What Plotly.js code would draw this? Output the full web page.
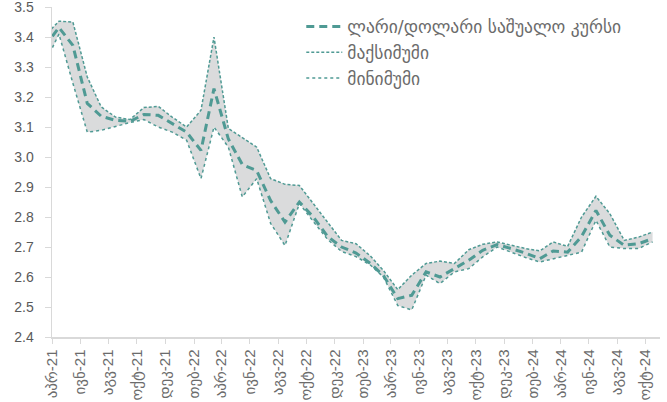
<!DOCTYPE html>
<html>
<head>
<meta charset="utf-8">
<script src="https://cdn.plot.ly/plotly-3.0.1.min.js"></script>
<style>html,body{margin:0;padding:0;background:#fff}#chart{width:667px;height:402px}</style>
</head>
<body>
<div id="chart"></div>
<script>
// Months (first entry, March 2021, lies just left of the visible axis and is clipped)
const months = [
  '2021-03','2021-04','2021-05','2021-06','2021-07','2021-08','2021-09','2021-10','2021-11','2021-12',
  '2022-01','2022-02','2022-03','2022-04','2022-05','2022-06','2022-07','2022-08','2022-09','2022-10','2022-11','2022-12',
  '2023-01','2023-02','2023-03','2023-04','2023-05','2023-06','2023-07','2023-08','2023-09','2023-10','2023-11','2023-12',
  '2024-01','2024-02','2024-03','2024-04','2024-05','2024-06','2024-07','2024-08','2024-09','2024-10'
];
const avgRate = [
  3.368,3.432,3.372,3.179,3.136,3.122,3.119,3.142,3.139,3.111,
  3.083,3.022,3.228,3.060,2.975,2.955,2.855,2.783,2.850,2.800,2.735,2.700,
  2.680,2.645,2.605,2.528,2.539,2.617,2.600,2.628,2.656,2.689,2.708,2.695,
  2.680,2.661,2.687,2.683,2.735,2.822,2.739,2.706,2.711,2.728
];
const maxRate = [
  3.403,3.453,3.450,3.267,3.167,3.133,3.125,3.165,3.169,3.133,
  3.100,3.156,3.400,3.095,3.065,3.033,2.928,2.909,2.905,2.845,2.785,2.722,
  2.711,2.670,2.622,2.558,2.606,2.645,2.653,2.645,2.691,2.709,2.717,2.706,
  2.695,2.687,2.717,2.702,2.800,2.869,2.811,2.722,2.733,2.750
];
const minRate = [
  3.311,3.410,3.246,3.083,3.089,3.102,3.115,3.125,3.100,3.083,
  3.056,2.928,3.100,3.033,2.867,2.928,2.779,2.705,2.845,2.785,2.725,2.685,
  2.668,2.640,2.600,2.505,2.490,2.606,2.578,2.617,2.628,2.667,2.700,2.683,
  2.665,2.650,2.661,2.672,2.683,2.789,2.700,2.695,2.695,2.717
];
const tickMonths = ['2021-04','2021-06','2021-08','2021-10','2021-12','2022-02','2022-04','2022-06','2022-08','2022-10','2022-12',
  '2023-02','2023-04','2023-06','2023-08','2023-10','2023-12','2024-02','2024-04','2024-06','2024-08','2024-10'];
const tickLabels = ['აპრ-21','ივნ-21','აგვ-21','ოქტ-21','დეკ-21','თებ-22','აპრ-22','ივნ-22','აგვ-22','ოქტ-22','დეკ-22',
  'თებ-23','აპრ-23','ივნ-23','აგვ-23','ოქტ-23','დეკ-23','თებ-24','აპრ-24','ივნ-24','აგვ-24','ოქტ-24'];
const yTicks = [2.4, 2.5, 2.6, 2.7, 2.8, 2.9, 3.0, 3.1, 3.2, 3.3, 3.4, 3.5];
const names = ['ლარი/დოლარი საშუალო კურსი','მაქსიმუმი','მინიმუმი'];

const x = months.map(m => m + '-16');
const teal = '#4f9a94';
const font = '"Liberation Sans", "DejaVu Sans", sans-serif';

const traces = [
  {x: x, y: maxRate, mode: 'lines', line: {width: 0}, showlegend: false, hoverinfo: 'skip'},
  {x: x, y: minRate, mode: 'lines', line: {width: 0}, fill: 'tonexty', fillcolor: '#dadbdc', showlegend: false, hoverinfo: 'skip'},
  {x: x, y: avgRate, name: names[0], mode: 'lines', line: {color: teal, width: 3, dash: '8px,5px'}},
  {x: x, y: maxRate, name: names[1], mode: 'lines', line: {color: teal, width: 1.5, dash: '3px,2px'}},
  {x: x, y: minRate, name: names[2], mode: 'lines', line: {color: teal, width: 1.5, dash: 'dot'}}
];

const layout = {
  width: 667, height: 402,
  margin: {l: 52, r: 7, t: 7, b: 65},
  paper_bgcolor: '#fff', plot_bgcolor: '#fff',
  font: {family: font, color: '#595959', size: 14},
  showlegend: true,
  legend: {x: 0.41, y: 0.995, xanchor: 'left', yanchor: 'top', bgcolor: 'rgba(0,0,0,0)', traceorder: 'normal',
    font: {family: '"DejaVu Sans", sans-serif', size: 17.5, color: '#6b6b6b'}, itemwidth: 36, tracegroupgap: 0},
  xaxis: {
    type: 'date', range: ['2021-04-01', '2024-11-01'],
    tickvals: tickMonths.map(m => m + '-01'), ticktext: tickLabels, tickangle: -90,
    showgrid: false, zeroline: false, showline: true, linecolor: '#d9d9d9', linewidth: 1.5,
    ticks: 'outside', ticklen: 5, tickcolor: '#d9d9d9', tickfont: {family: font, size: 15, color: '#6b6b6b'}
  },
  yaxis: {
    range: [2.4, 3.5002], tickvals: yTicks, ticktext: yTicks.map(v => v.toFixed(1)),
    showgrid: false, zeroline: false, showline: true, linecolor: '#d9d9d9', linewidth: 1.5,
    ticks: 'outside', ticklen: 6, tickcolor: '#d9d9d9', ticklabelstandoff: 8, ticklabeloverflow: 'allow',
    tickfont: {family: font, size: 14, color: '#595959'}
  }
};

Plotly.newPlot('chart', traces, layout, {displayModeBar: false, staticPlot: true});
</script>
</body>
</html>
